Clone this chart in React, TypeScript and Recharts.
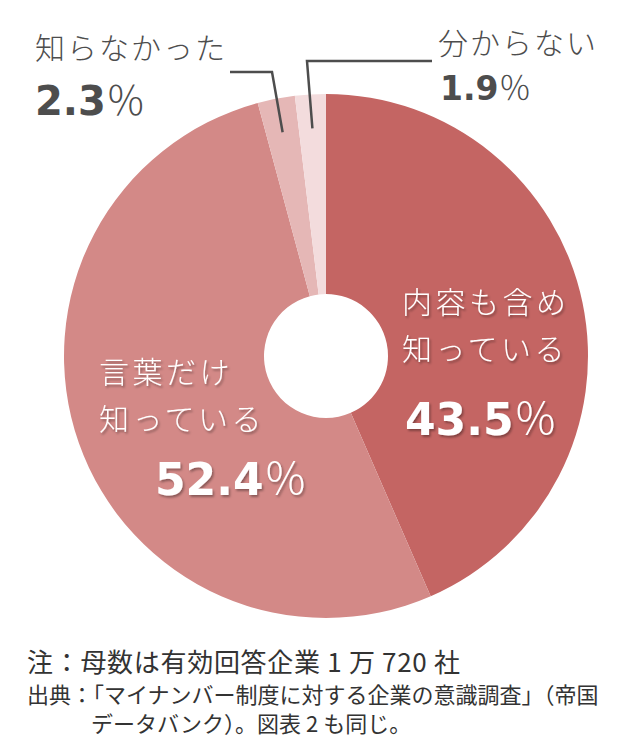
import React from 'react';
import { PieChart, Pie, Cell } from 'recharts';

// Awareness of the My Number system (share of responding companies, %)
const categories = ['内容も含め知っている', '言葉だけ知っている', '知らなかった', '分からない'];
const shares = [43.5, 52.4, 2.3, 1.9];
const labelLines = [
  ['内容も含め', '知っている'],
  ['言葉だけ', '知っている'],
  ['知らなかった'],
  ['分からない'],
];
const noteLines = [
  '注：母数は有効回答企業 1 万 720 社',
  '出典：「マイナンバー制度に対する企業の意識調査」（帝国',
  'データバンク）。図表 2 も同じ。',
];

const COLORS = ['#c46563', '#d38987', '#e5b7b6', '#f3dcdd'];
const JP = '"Noto Sans CJK JP", "Noto Sans", sans-serif';
const NUM = '"DejaVu Sans", "Liberation Sans", sans-serif';
const RAD = Math.PI / 180;

const data = categories.map((name, i) => ({ name, value: shares[i], lines: labelLines[i] }));

// label placement relative to the pie centre
const layout = [
  { inside: true, x: 76, lines: [-43, 4], numX: 79, num: 79, size: 30, numSize: 44 },
  { inside: true, x: -227, lines: [27, 74], numX: -171, num: 139, size: 30, numSize: 44 },
  { inside: false, x: -291, lines: [-297], numX: -291, num: -241, size: 30, numSize: 40, elbow: [-54, -284], end: -96 },
  { inside: false, x: 112, lines: [-302], numX: 114, num: -256, size: 30, numSize: 33, elbow: [-19, -295], end: 106 },
];

const renderLabel = (props: any) => {
  const { cx, cy, midAngle, outerRadius, index, value } = props;
  const l = layout[index];
  const fill = l.inside ? '#ffffff' : '#4d4d4d';
  const filter = l.inside ? 'url(#txtShadow)' : undefined;
  const lines: string[] = data[index].lines;
  let leader = null;
  if (!l.inside && l.elbow) {
    const r = outerRadius - 34;
    const sx = cx + r * Math.cos(-midAngle * RAD);
    const sy = cy + r * Math.sin(-midAngle * RAD);
    const ex = cx + l.elbow[0];
    const ey = cy + l.elbow[1];
    leader = (
      <polyline
        points={`${sx},${sy} ${ex},${ey} ${cx + l.end},${ey}`}
        fill="none"
        stroke="#4d4d4d"
        strokeWidth={2.5}
      />
    );
  }
  return (
    <g>
      {leader}
      {lines.map((t, k) => (
        <text
          key={k}
          x={cx + l.x}
          y={cy + l.lines[k]}
          fill={fill}
          filter={filter}
          fontFamily={JP}
          fontWeight={300}
          fontSize={l.size}
          letterSpacing={l.inside ? 3.5 : 2}
        >
          {t}
        </text>
      ))}
      <text x={cx + l.numX} y={cy + l.num} fill={fill} filter={filter}>
        <tspan fontFamily={NUM} fontWeight={700} fontSize={l.numSize}>
          {value.toFixed(1)}
        </tspan>
        <tspan fontFamily={JP} fontWeight={300} fontSize={l.numSize}>％</tspan>
      </text>
    </g>
  );
};

export default function App() {
  return (
    <div style={{ position: 'absolute', left: 0, top: 0, width: 640, height: 752, background: '#fff' }}>
      <svg width={0} height={0} style={{ position: 'absolute' }}>
        <defs>
          <filter id="txtShadow" x="-10%" y="-20%" width="130%" height="150%">
            <feDropShadow dx="1.5" dy="2" stdDeviation="1.2" floodColor="#000" floodOpacity="0.35" />
          </filter>
        </defs>
      </svg>
      <PieChart width={640} height={640} margin={{ top: 0, right: 0, bottom: 0, left: 0 }}>
        <Pie
          data={data}
          dataKey="value"
          cx={326}
          cy={356}
          innerRadius={62}
          outerRadius={262}
          startAngle={90}
          endAngle={-270}
          stroke="none"
          label={renderLabel}
          labelLine={false}
          isAnimationActive={false}
        >
          {data.map((d, i) => (
            <Cell key={d.name} fill={COLORS[i]} />
          ))}
        </Pie>
      </PieChart>
      <div style={{ position: 'absolute', left: 27, top: 642, fontFamily: JP, fontSize: 26, letterSpacing: 0.7, color: '#333', whiteSpace: 'nowrap' }}>
        {noteLines[0]}
      </div>
      <div style={{ position: 'absolute', left: 27, top: 679, fontFamily: JP, fontSize: 22, color: '#333', whiteSpace: 'nowrap', lineHeight: '29px' }}>
        <div>{noteLines[1]}</div>
        <div style={{ paddingLeft: 64 }}>{noteLines[2]}</div>
      </div>
    </div>
  );
}
